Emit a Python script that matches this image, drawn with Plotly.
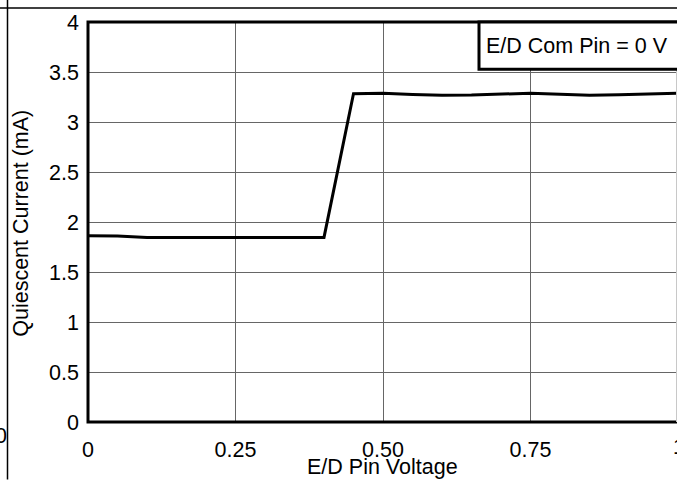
import plotly.graph_objects as go

# Data
voltage = [0.0, 0.05, 0.10, 0.15, 0.20, 0.25, 0.30, 0.35, 0.40, 0.45, 0.50, 0.55, 0.60,
           0.65, 0.70, 0.75, 0.80, 0.85, 0.90, 0.95, 1.00]
current = [1.862, 1.860, 1.846, 1.846, 1.846, 1.846, 1.846, 1.846, 1.846, 3.283, 3.288,
           3.275, 3.268, 3.270, 3.278, 3.288, 3.278, 3.268, 3.272, 3.282, 3.288]

x_tickvals = [0, 0.25, 0.5, 0.75]
x_ticktext = ["0", "0.25", "0.50", "0.75"]
y_tickvals = [0, 0.5, 1, 1.5, 2, 2.5, 3, 3.5, 4]
y_ticktext = ["0", "0.5", "1", "1.5", "2", "2.5", "3", "3.5", "4"]

x_title = "E/D Pin Voltage"
y_title = "Quiescent Current (mA)"
legend_text = "E/D Com Pin = 0 V"

FONT = "Liberation Sans, Arial, sans-serif"
FS = 21.5

W, H = 677, 480
L, R, T, B = 88, 0, 22, 57.5
PW = W - L - R
PH = H - T - B


def px(xp):
    return (xp - L) / PW


def py(yp):
    return (H - B - yp) / PH


fig = go.Figure()
fig.add_trace(go.Scatter(x=voltage, y=current, mode="lines",
                         line=dict(color="black", width=3), showlegend=False,
                         hoverinfo="skip"))

fig.update_layout(
    width=W, height=H,
    margin=dict(l=L, r=R, t=T, b=B, pad=0),
    paper_bgcolor="white", plot_bgcolor="white",
    font=dict(family=FONT, size=FS, color="black"),
    showlegend=False,
)

fig.update_xaxes(
    range=[0, PW / 590.0], tickvals=x_tickvals, ticktext=x_ticktext,
    showgrid=True, gridcolor="#666666", gridwidth=1,
    zeroline=False, showline=False, ticks="",
    tickfont=dict(family=FONT, size=FS, color="black"),
    ticklabelstandoff=12,
)
fig.update_yaxes(
    range=[0, 4], tickvals=y_tickvals, ticktext=y_ticktext,
    showgrid=True, gridcolor="#666666", gridwidth=1,
    zeroline=False, showline=False, ticks="",
    tickfont=dict(family=FONT, size=FS, color="black"),
    ticklabelstandoff=8,
)

shapes = [
    # plot frame (right edge falls just outside the picture)
    dict(type="path", xref="paper", yref="paper",
         path=f"M {px(700)},0 L 0,0 L 0,1 L {px(700)},1",
         line=dict(color="black", width=3), layer="above"),
    # faint trace of the right frame edge
    dict(type="line", xref="paper", yref="paper", x0=px(676.5), x1=px(676.5), y0=0, y1=1,
         line=dict(color="#c8c8c8", width=1), layer="above"),
    # legend box
    dict(type="rect", xref="paper", yref="paper", x0=px(479), x1=px(700), y0=py(69.3), y1=1,
         line=dict(color="black", width=3), fillcolor="white", layer="above"),
    # outer table lines
    dict(type="line", xref="paper", yref="paper", x0=px(7.5), x1=px(7.5), y0=py(480), y1=py(0),
         line=dict(color="black", width=1.5)),
    dict(type="line", xref="paper", yref="paper", x0=px(0), x1=px(677), y0=py(8), y1=py(8),
         line=dict(color="black", width=1.5)),
]
fig.update_layout(shapes=shapes)

annotations = [
    dict(text=legend_text, xref="paper", yref="paper", x=px(485), y=py(45.7),
         xanchor="left", yanchor="middle", showarrow=False, borderpad=0,
         font=dict(family=FONT, size=FS, color="black")),
    dict(text=y_title, xref="paper", yref="paper", x=px(21), y=py(224), textangle=-90,
         xanchor="center", yanchor="middle", showarrow=False,
         font=dict(family=FONT, size=FS, color="black")),
    dict(text=x_title, xref="paper", yref="paper", x=px(382), y=py(468),
         xanchor="center", yanchor="middle", showarrow=False, borderpad=0,
         font=dict(family=FONT, size=FS, color="black")),
    dict(text="1", xref="paper", yref="paper", x=px(678.5), y=py(448),
         xanchor="center", yanchor="middle", showarrow=False, borderpad=0,
         font=dict(family=FONT, size=FS, color="black")),
    dict(text="0", xref="paper", yref="paper", x=px(8), y=py(437),
         xanchor="right", yanchor="middle", showarrow=False, borderpad=0,
         font=dict(family=FONT, size=FS, color="black")),
]
fig.update_layout(annotations=annotations)

fig.write_html("out.html")
